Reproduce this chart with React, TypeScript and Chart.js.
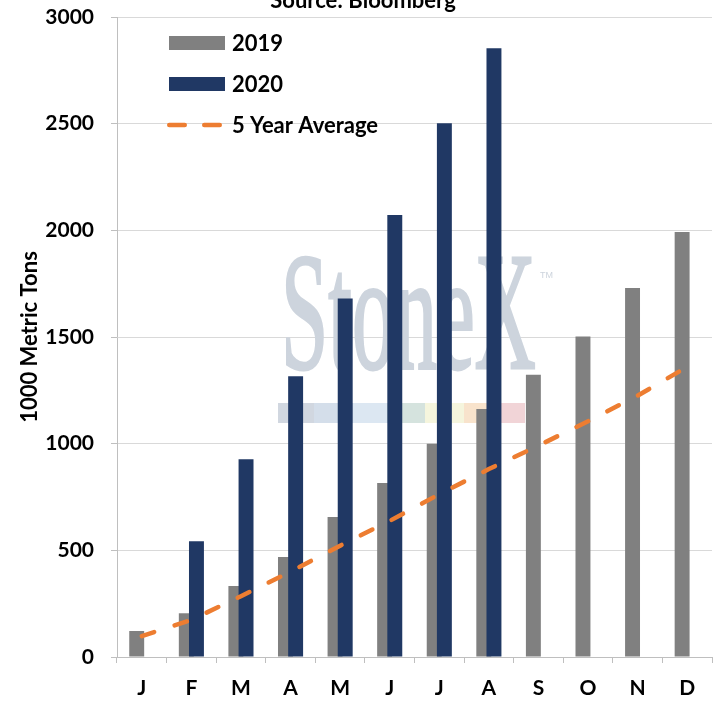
import { useEffect, useRef } from 'react';
import { Chart, registerables } from 'chart.js';

Chart.register(...registerables);

const months = ['J', 'F', 'M', 'A', 'M', 'J', 'J', 'A', 'S', 'O', 'N', 'D'];
const series2019 = [122, 205, 333, 469, 656, 816, 1000, 1163, 1323, 1502, 1730, 1992];
const series2020 = [null, 542, 927, 1316, 1680, 2072, 2502, 2853, null, null, null, null];
const fiveYearAvg = [98, 174, 285, 400, 522, 638, 763, 881, 991, 1105, 1225, 1360];
const yTicks = [0, 500, 1000, 1500, 2000, 2500, 3000];
const seriesNames = ['2019', '2020', '5 Year Average'];
const titleText = 'Source: Bloomberg';
const yAxisTitle = '1000 Metric Tons';
const watermarkText = 'StoneX';

const FONT = 'Lato';
const GRAY = '#808080';
const NAVY = '#203864';
const ORANGE = '#ED7D31';
const WM_COLOR = '#CDD4DD';
const WM_STRIPES = ['#D1D7E0', '#D4DEEA', '#DCE7F2', '#D5E3DE', '#F5F5DD', '#F8E3CC', '#F1D4D7'];
const WM_STRIPE_W = [36, 39, 34, 38, 39, 23, 38];

const layerFix = {
  id: 'layerFix',
  beforeDatasetDraw(chart: any, args: any) {
    if (args.index === 0) return false;
    if (args.index === 1) {
      chart.getDatasetMeta(0).controller.draw();
    }
    return true;
  },
};

const watermark = {
  id: 'watermark',
  beforeDatasetsDraw(chart: any) {
    const { ctx, chartArea } = chart;
    const L = chartArea.left;
    const T = chartArea.top;
    ctx.save();
    let x = L + 161;
    WM_STRIPES.forEach((c, i) => {
      ctx.fillStyle = c;
      ctx.fillRect(x, T + 386, WM_STRIPE_W[i], 20);
      x += WM_STRIPE_W[i];
    });
    ctx.font = '168px "Liberation Serif"';
    const w = ctx.measureText(watermarkText).width;
    const sx = 255 / w;
    ctx.translate(L + 164, T + 351);
    ctx.scale(sx, 1);
    ctx.fillStyle = WM_COLOR;
    ctx.strokeStyle = WM_COLOR;
    ctx.lineWidth = 3;
    ctx.textBaseline = 'alphabetic';
    ctx.fillText(watermarkText, 0, 0);
    ctx.strokeText(watermarkText, 0, 0);
    ctx.restore();
    ctx.save();
    ctx.fillStyle = WM_COLOR;
    ctx.font = '9px "Liberation Sans"';
    ctx.textBaseline = 'top';
    ctx.fillText('TM', L + 423, T + 254);
    ctx.restore();
  },
};

const insideLegend = {
  id: 'insideLegend',
  afterDatasetsDraw(chart: any) {
    const { ctx, chartArea } = chart;
    const x0 = chartArea.left + 52;
    const y0 = chartArea.top + 26;
    const rowGap = 41;
    ctx.save();
    ctx.font = `bold 22px ${FONT}`;
    ctx.textBaseline = 'middle';
    ctx.textAlign = 'left';
    chart.data.datasets.forEach((ds: any, i: number) => {
      const cy = y0 + i * rowGap;
      if (ds.type === 'line') {
        ctx.strokeStyle = ds.borderColor;
        ctx.lineWidth = 4.5;
        ctx.lineCap = 'round';
        ctx.setLineDash([15.5, 19.5]);
        ctx.beginPath();
        ctx.moveTo(x0 + 0.25, cy);
        ctx.lineTo(x0 + 50.75, cy);
        ctx.stroke();
        ctx.setLineDash([]);
      } else {
        ctx.fillStyle = ds.backgroundColor;
        ctx.fillRect(x0, cy - 7, 56, 14);
      }
      ctx.fillStyle = '#000';
      ctx.fillText(ds.label, x0 + 63, cy + 1);
    });
    ctx.restore();
  },
};

const cutTitle = {
  id: 'cutTitle',
  afterDraw(chart: any) {
    const { ctx, width } = chart;
    ctx.save();
    ctx.font = `bold 22px ${FONT}`;
    ctx.fillStyle = '#000';
    ctx.textAlign = 'center';
    ctx.textBaseline = 'alphabetic';
    ctx.fillText(titleText, width / 2 + 4, 8);
    ctx.restore();
  },
};

export default function App() {
  const ref = useRef<HTMLCanvasElement | null>(null);

  useEffect(() => {
    if (!ref.current) return;
    const chart = new Chart(ref.current, {
      type: 'bar',
      data: {
        labels: months,
        datasets: [
          {
            type: 'bar',
            label: seriesNames[0],
            data: series2019,
            backgroundColor: GRAY,
            categoryPercentage: 0.41,
            barPercentage: 1.47,
            order: 0,
          },
          {
            type: 'bar',
            label: seriesNames[1],
            data: series2020 as any,
            backgroundColor: NAVY,
            categoryPercentage: 0.41,
            barPercentage: 1.47,
            order: 0,
          },
          {
            type: 'line',
            label: seriesNames[2],
            data: fiveYearAvg,
            borderColor: ORANGE,
            backgroundColor: ORANGE,
            borderWidth: 4.5,
            borderDash: [13, 21.5],
            borderCapStyle: 'round',
            pointRadius: 0,
            tension: 0,
            fill: false,
            order: -1,
          } as any,
        ],
      },
      options: {
        responsive: false,
        animation: false,
        layout: { padding: { top: 17, right: 6, bottom: 0, left: 0 } },
        plugins: {
          legend: { display: false },
          tooltip: { enabled: false },
          title: { display: false },
        },
        scales: {
          x: {
            offset: true,
            grid: {
              display: true,
              drawOnChartArea: false,
              drawTicks: true,
              tickLength: 6,
              color: '#BFBFBF',
              offset: true,
            },
            border: { color: '#BFBFBF', width: 1 },
            ticks: {
              font: { family: FONT, size: 21, weight: 'bold' },
              color: '#000',
              padding: 13,
              maxRotation: 0,
              autoSkip: false,
            },
            afterFit: (s: any) => {
              s.height = 44;
              s.paddingLeft = 0;
              s.paddingRight = 0;
            },
          },
          y: {
            min: yTicks[0],
            max: yTicks[yTicks.length - 1],
            ticks: {
              stepSize: yTicks[1] - yTicks[0],
              font: { family: FONT, size: 21, weight: 'bold' },
              color: '#000',
              padding: 17,
              callback: (v: any) => String(v),
            },
            grid: {
              color: '#D9D9D9',
              tickColor: '#BFBFBF',
              tickLength: 6,
              drawTicks: true,
            },
            border: { color: '#BFBFBF', width: 1 },
            title: {
              display: true,
              text: yAxisTitle,
              font: { family: FONT, size: 22, weight: 'bold' },
              color: '#000',
              padding: { top: 17, bottom: 0 },
            },
            afterFit: (s: any) => {
              s.width = 117;
              s.paddingTop = 0;
              s.paddingBottom = 0;
            },
          },
        },
      } as any,
      plugins: [layerFix, watermark, insideLegend, cutTitle],
    });
    return () => chart.destroy();
  }, []);

  return (
    <div style={{ position: 'fixed', left: 0, top: 0, width: 718, height: 701, background: '#fff' }}>
      <canvas ref={ref} width={718} height={701} style={{ display: 'block' }} />
    </div>
  );
}
